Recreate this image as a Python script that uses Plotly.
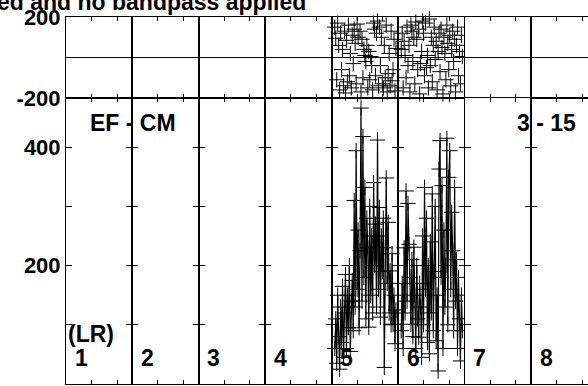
import plotly.graph_objects as go
from plotly.subplots import make_subplots

# ---------------- data ----------------
channel_labels = ["1", "2", "3", "4", "5", "6", "7", "8"]
segment_length = 13.0          # time units per channel segment
minor_ticks = [5, 10]
sample_start = 0.6
sample_step = 0.19

amp_ch5 = [60, 110, 35, 150, 80, 25, 130, 70, 165, 45,
           120, 185, 60, 150, 95, 200, 55, 140, 175, 90,
           310, 130, 394, 160, 260, 95, 225, 466, 140, 418,
           180, 332, 110, 280, 230, 96, 300, 150, 250, 120,
           340, 200, 270, 130, 412, 160, 298, 113, 250, 190,
           280, 28, 230, 348, 170, 273, 120, 191, 100, 220,
           101, 150, 68, 125]
amp_ch6 = [90, 170, 60, 230, 120, 326, 140, 305, 236, 180,
           101, 210, 80, 231, 150, 60, 200, 110, 79, 170,
           130, 45, 250, 100, 332, 160, 280, 70, 200, 51,
           240, 120, 321, 90, 190, 300, 73, 150, 22, 363,
           411, 180, 335, 60, 260, 130, 200, 415, 100, 349,
           394, 160, 290, 225, 90, 332, 140, 210, 60, 180,
           110, 39, 150, 90]
phase_ch5 = [150, 95, -110, 170, 60, -160, 120, -60, 40, -140,
             130, -175, 85, -120, 160, -90, 20, -150, 110, -30,
             140, 70, -130, 165, 100, -245, 130, -170, 90, -100,
             40, 10, -20, 60, -150, 30, -110, 5, -40, -160,
             170, 140, -90, 120, 180, -140, 150, -40, 100, -130,
             -150, 60, -100, 160, -170, -80, 20, -140, 130, -115,
             -60, 90, -165, 45]
phase_ch6 = [40, 120, -150, 80, 10, -100, 150, -40, 60, -170,
             160, 130, -20, 100, -130, 175, 90, -60, 140, -180,
             -30, 30, 180, 120, -90, 170, -50, 10, -150, 190,
             -40, 100, -120, 60, 150, -10, 80, -160, 30, 120,
             -70, 140, 50, -180, 100, 20, -110, 160, 70, -60,
             110, -140, 40, 130, -20, 90, -170, 60, 150, -90,
             30, -130, 110, 5]

amp_ticks = [0, 100, 200, 300, 400]
amp_ticktext = ["0", "", "200", "", "400"]
phase_ticks = [-200, 0, 200]
phase_ticktext = ["-200", "", "200"]

title_text = "ed and no bandpass applied"
left_label = "EF - CM"
right_label = "3 - 15"
ref_label = "(LR)"

times = [sample_start + sample_step * i for i in range(len(amp_ch5))]

# ---------------- layout geometry ----------------
W, H = 588, 386
ML, MR, MT, MB = 66, 0, 17, 2
col_px = 66.43
ncols = 8
last_col_px = (W - ML - MR) - col_px * (ncols - 1)
PW = W - ML - MR
PH = H - MT - MB

fig = make_subplots(rows=2, cols=ncols,
                    column_widths=[col_px] * (ncols - 1) + [last_col_px],
                    row_heights=[81, 286],
                    horizontal_spacing=0, vertical_spacing=0)

mk = dict(symbol="cross-thin", size=11, color="black",
          line=dict(width=1, color="black"))

# empty placeholder traces so that every channel panel gets drawn
for r in (1, 2):
    for c in range(1, ncols + 1):
        fig.add_trace(go.Scatter(x=[None], y=[None], mode="markers",
                                 showlegend=False, hoverinfo="skip"), row=r, col=c)

fig.add_trace(go.Scatter(x=times, y=phase_ch5, mode="markers", marker=mk,
                         cliponaxis=False, showlegend=False), row=1, col=5)
fig.add_trace(go.Scatter(x=times, y=phase_ch6, mode="markers", marker=mk,
                         cliponaxis=False, showlegend=False), row=1, col=6)
fig.add_trace(go.Scatter(x=times, y=amp_ch5, mode="lines+markers", marker=mk,
                         line=dict(color="black", width=1.2),
                         cliponaxis=False, showlegend=False), row=2, col=5)
fig.add_trace(go.Scatter(x=times, y=amp_ch6, mode="lines+markers", marker=mk,
                         line=dict(color="black", width=1.2),
                         cliponaxis=False, showlegend=False), row=2, col=6)

tfont = dict(family="Liberation Sans, Arial", size=22, color="black", weight="bold")

for r in (1, 2):
    for c in range(1, ncols + 1):
        xr = [0, segment_length] if c < ncols else [0, segment_length * last_col_px / col_px]
        fig.update_xaxes(range=xr, tickvals=minor_ticks, ticks="inside", ticklen=4,
                         tickcolor="black", showticklabels=False, showline=True,
                         linecolor="black", linewidth=1, mirror="ticks",
                         showgrid=False, zeroline=False, row=r, col=c)
        yk = dict(ticks="inside", ticklen=6, tickcolor="black", showline=True,
                  linecolor="black", linewidth=1,
                  mirror=("ticks" if c < ncols else False),
                  showgrid=False, showticklabels=(c == 1), tickfont=tfont)
        if r == 1:
            yk.update(range=[-200, 200], tickvals=phase_ticks, ticktext=phase_ticktext,
                      zeroline=True, zerolinecolor="black", zerolinewidth=1)
        else:
            yk.update(range=[0, 483], tickvals=amp_ticks, ticktext=amp_ticktext,
                      zeroline=False)
        fig.update_yaxes(row=r, col=c, **yk)


def px_x(X):
    return (X - ML) / PW


def px_y(Y):
    return (H - MB - Y) / PH


afont = dict(family="Liberation Sans, Arial", size=23, color="black", weight="bold")
ann = []
ann.append(dict(text=title_text, x=px_x(308), y=px_y(1.5), xref="paper", yref="paper",
                xanchor="right", yanchor="middle", showarrow=False,
                font=dict(family="Liberation Sans, Arial", size=23, color="black", weight="bold")))
ann.append(dict(text=left_label, x=px_x(133), y=px_y(123), xref="paper", yref="paper",
                xanchor="center", yanchor="middle", showarrow=False, font=afont))
ann.append(dict(text=right_label, x=px_x(546), y=px_y(123), xref="paper", yref="paper",
                xanchor="center", yanchor="middle", showarrow=False, font=afont))
ann.append(dict(text=ref_label, x=px_x(66), y=px_y(334), xref="paper", yref="paper",
                xanchor="left", yanchor="middle", showarrow=False, font=afont))
for i, lab in enumerate(channel_labels):
    ann.append(dict(text=lab, x=px_x(ML + col_px * i + 15), y=px_y(358),
                    xref="paper", yref="paper", xanchor="center", yanchor="middle",
                    showarrow=False, font=afont))

fig.update_layout(width=W, height=H,
                  margin=dict(l=ML, r=MR, t=MT, b=MB, autoexpand=False),
                  paper_bgcolor="white", plot_bgcolor="white",
                  annotations=ann, showlegend=False)

fig.write_html("out.html",
               config={"displayModeBar": False},
               post_script="document.body.style.margin='0px';"
                           "document.body.style.overflow='hidden';")
